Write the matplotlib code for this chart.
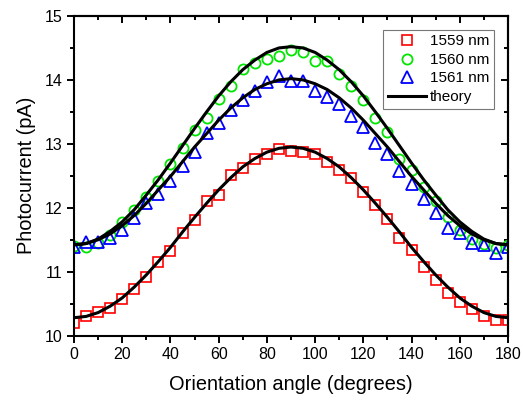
import matplotlib
matplotlib.use("Agg")
import matplotlib.pyplot as plt
from matplotlib.ticker import MultipleLocator

plt.rcParams['font.family'] = ['Liberation Sans', 'DejaVu Sans']

# orientation angle (degrees)
angle = [0, 5, 10, 15, 20, 25, 30, 35, 40, 45, 50, 55, 60, 65, 70, 75, 80, 85, 90,
         95, 100, 105, 110, 115, 120, 125, 130, 135, 140, 145, 150, 155, 160, 165, 170, 175, 180]

# measured photocurrent (pA)
pc_1559 = [10.20, 10.31, 10.37, 10.43, 10.57, 10.73, 10.91, 11.15, 11.33, 11.60, 11.81, 12.10, 12.20,
           12.51, 12.62, 12.76, 12.84, 12.92, 12.89, 12.87, 12.84, 12.72, 12.59, 12.47, 12.25, 12.05,
           11.83, 11.53, 11.34, 11.08, 10.87, 10.66, 10.53, 10.41, 10.30, 10.25, 10.24]
pc_1560 = [11.40, 11.39, 11.45, 11.58, 11.78, 11.96, 12.17, 12.42, 12.68, 12.94, 13.22, 13.40, 13.70,
           13.90, 14.17, 14.26, 14.33, 14.37, 14.47, 14.44, 14.29, 14.29, 14.10, 13.91, 13.69, 13.40,
           13.18, 12.76, 12.59, 12.32, 12.10, 11.86, 11.65, 11.51, 11.44, 11.37, 11.42]
pc_1561 = [11.38, 11.47, 11.46, 11.52, 11.65, 11.84, 12.07, 12.22, 12.42, 12.66, 12.88, 13.17, 13.32,
           13.53, 13.69, 13.83, 13.97, 14.06, 13.99, 13.99, 13.82, 13.73, 13.63, 13.44, 13.27, 13.02,
           12.84, 12.57, 12.37, 12.13, 11.92, 11.68, 11.61, 11.45, 11.42, 11.30, 11.39]

# theory curves (pA)
th_1559 = [10.28, 10.30, 10.36, 10.46, 10.59, 10.76, 10.95, 11.16, 11.38, 11.62, 11.85, 12.07, 12.28,
           12.47, 12.64, 12.77, 12.87, 12.93, 12.95, 12.93, 12.87, 12.77, 12.64, 12.47, 12.28, 12.07,
           11.85, 11.62, 11.38, 11.16, 10.95, 10.76, 10.59, 10.46, 10.36, 10.30, 10.28]
th_1560 = [11.42, 11.44, 11.51, 11.63, 11.78, 11.97, 12.20, 12.44, 12.70, 12.97, 13.24, 13.50, 13.75,
           13.97, 14.16, 14.31, 14.43, 14.50, 14.52, 14.50, 14.43, 14.31, 14.16, 13.97, 13.75, 13.50,
           13.24, 12.97, 12.70, 12.44, 12.20, 11.97, 11.78, 11.63, 11.51, 11.44, 11.42]
th_1561 = [11.42, 11.44, 11.50, 11.59, 11.72, 11.88, 12.07, 12.28, 12.49, 12.72, 12.95, 13.16, 13.37,
           13.56, 13.72, 13.85, 13.94, 14.00, 14.02, 14.00, 13.94, 13.85, 13.72, 13.56, 13.37, 13.16,
           12.95, 12.72, 12.49, 12.28, 12.07, 11.88, 11.72, 11.59, 11.50, 11.44, 11.42]

fig = plt.figure(figsize=(5.23, 4.00), dpi=100)
ax = fig.add_axes([0.1415, 0.161, 0.8298, 0.799])

ax.plot(angle, pc_1559, 's', ms=6.5, mfc='none', mec='#ff0000', mew=1.2, label='1559 nm')
ax.plot(angle, pc_1560, 'o', ms=7.3, mfc='none', mec='#00e600', mew=1.3, label='1560 nm')
ax.plot(angle, pc_1561, '^', ms=8, mfc='none', mec='#0000ff', mew=1.3, label='1561 nm')
ax.plot(angle, th_1559, '-', color='black', lw=2.2, label='theory', zorder=3)
ax.plot(angle, th_1560, '-', color='black', lw=2.2, zorder=3)
ax.plot(angle, th_1561, '-', color='black', lw=2.2, zorder=3)

ax.set_xlim(0, 180)
ax.set_ylim(10, 15)
ax.xaxis.set_major_locator(MultipleLocator(20))
ax.xaxis.set_minor_locator(MultipleLocator(10))
ax.yaxis.set_major_locator(MultipleLocator(1))
ax.yaxis.set_minor_locator(MultipleLocator(0.5))
ax.tick_params(which='both', direction='out', labelsize=11.5, width=1.4, top=False, right=False)
ax.tick_params(which='major', length=5)
ax.tick_params(which='minor', length=3)
for sp in ax.spines.values():
    sp.set_linewidth(1.5)

# mirrored ticks on top and right point inward
top = ax.secondary_xaxis('top')
top.xaxis.set_major_locator(MultipleLocator(20))
top.xaxis.set_minor_locator(MultipleLocator(10))
top.tick_params(which='both', direction='in', labeltop=False, width=1.4)
top.tick_params(which='major', length=5)
top.tick_params(which='minor', length=3)
top.spines['top'].set_linewidth(1.5)
right = ax.secondary_yaxis('right')
right.yaxis.set_major_locator(MultipleLocator(1))
right.yaxis.set_minor_locator(MultipleLocator(0.5))
right.tick_params(which='both', direction='in', labelright=False, width=1.4)
right.tick_params(which='major', length=5)
right.tick_params(which='minor', length=3)
right.spines['right'].set_linewidth(1.5)

ax.set_xlabel('Orientation angle (degrees)', fontsize=14.4, labelpad=9)
ax.set_ylabel('Photocurrent (pA)', fontsize=14.4, labelpad=6)

leg = ax.legend(loc='upper right', fontsize=11, frameon=True, fancybox=False,
                edgecolor='#555555', handlelength=2.5, labelspacing=0.3,
                borderaxespad=0.9, handletextpad=0.3, borderpad=0.3)
leg.get_frame().set_linewidth(0.8)

fig.savefig('out.png', dpi=100)
